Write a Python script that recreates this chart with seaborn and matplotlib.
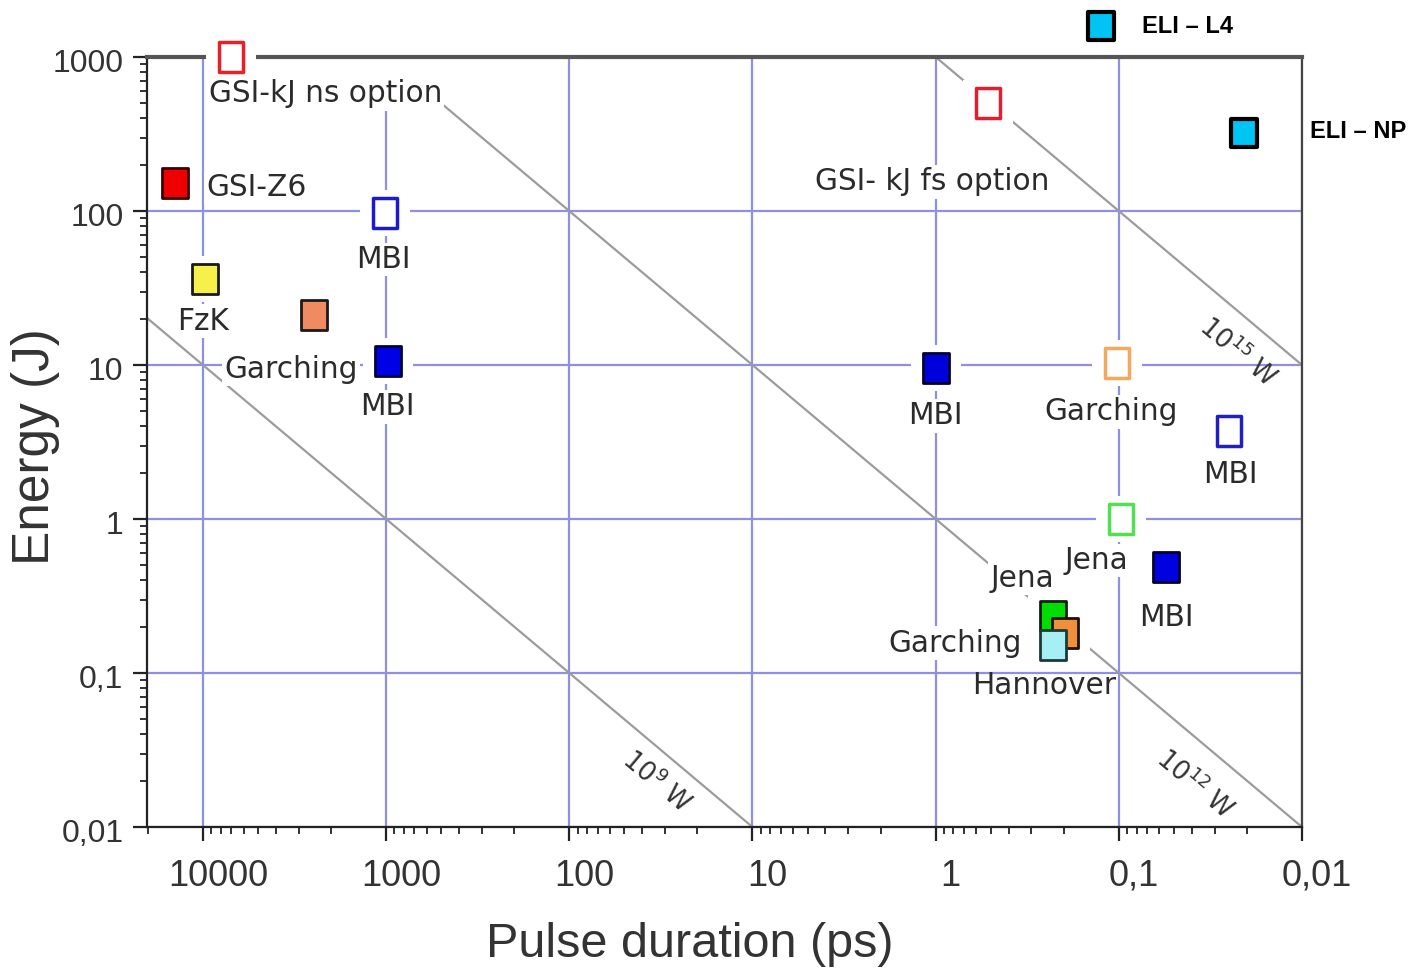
import matplotlib
matplotlib.use("Agg")
import numpy as np
import pandas as pd
import seaborn as sns
import matplotlib.pyplot as plt
from matplotlib import font_manager as fm
from matplotlib.path import Path
from matplotlib.markers import MarkerStyle
from matplotlib.ticker import FixedLocator, FixedFormatter, LogLocator, NullFormatter
from matplotlib.transforms import ScaledTranslation

# ---------------- data ----------------
point_names = ["GSI-kJ ns option", "GSI-Z6", "FzK", "Garching", "MBI", "MBI",
               "GSI- kJ fs option", "MBI", "Garching", "MBI", "Jena", "MBI",
               "Jena", "Garching", "Hannover", "ELI – L4", "ELI – NP"]
duration_ps = [7000, 14200, 9700, 2470, 1020, 980,
               0.52, 0.99, 0.102, 0.025, 0.097, 0.0553,
               0.229, 0.196, 0.229, 0.125, 0.0208]
energy_j = [1000, 153, 36, 21, 97, 10.6,
            500, 9.6, 10.3, 3.74, 1.0, 0.485,
            0.234, 0.1815, 0.151, 1590, 322]
face_colors = ["white", "#ee0000", "#f5f04a", "#f08a60", "white", "#0000e6",
               "white", "#0000dd", "white", "white", "white", "#0000e0",
               "#00dd00", "#f0903a", "#a8eef5", "#00c4f4", "#00c4f4"]
edge_colors = ["#e8202a", "#3a0000", "#1a1a1a", "#1a1a1a", "#1a1ad0", "#000040",
               "#e02030", "#000030", "#f5a860", "#2020c0", "#50e050", "#000030",
               "#102010", "#201000", "#1a3a3a", "black", "black"]
marker_kind = ["hollow", "filled", "filled", "filled", "hollow", "filled",
               "hollow", "filled", "hollow", "hollow", "hollow", "filled",
               "filled", "filled", "filled", "eli", "eli"]

label_text = ["GSI-kJ ns option", "GSI-Z6", "MBI", "FzK", "Garching", "MBI",
              "GSI- kJ fs option", "MBI", "Garching", "MBI", "Jena", "Jena",
              "MBI", "Garching", "Hannover"]
label_x_ps = [2150, 5070, 1040, 10000, 3300, 980,
              1.05, 1.0, 0.11, 0.0247, 0.132, 0.335,
              0.0553, 0.787, 0.254]
label_y_j = [568, 142, 48.5, 19.3, 9.4, 5.35,
             155, 4.68, 4.97, 1.94, 0.538, 0.412,
             0.23, 0.156, 0.0824]

eli_text = ["ELI – L4", "ELI – NP"]
eli_text_x_ps = [0.0748, 0.00904]
eli_text_y_j = [1587, 327]

power_w = [1e9, 1e12, 1e15]
power_text = [r"$\mathregular{10^{9}}$ W", r"$\mathregular{10^{12}}$ W", r"$\mathregular{10^{15}}$ W"]
power_text_x_ps = [33.5, 0.0385, 0.0224]
power_text_y_j = [0.0197, 0.0188, 12.1]

x_tick_values = [1e4, 1e3, 1e2, 1e1, 1e0, 1e-1, 1e-2]
x_tick_labels = ["10000", "1000", "100", "10", "1", "0,1", "0,01"]
y_tick_values = [1e-2, 1e-1, 1e0, 1e1, 1e2, 1e3]
y_tick_labels = ["0,01", "0,1", "1", "10", "100", "1000"]

x_limits = (2.02e4, 1e-2)
y_limits = (1e-2, 1e3)

# ---------------- style ----------------
sns.set_theme(style="ticks")
plt.rcParams["font.family"] = ["DejaVu Sans"]
plt.rcParams["axes.unicode_minus"] = False


def available(name):
    try:
        fm.findfont(fm.FontProperties(family=name), fallback_to_default=False)
        return True
    except Exception:
        return False


sans = "Liberation Sans" if available("Liberation Sans") else "DejaVu Sans"
narrow = "Liberation Sans Narrow" if available("Liberation Sans Narrow") else None

fig = plt.figure(figsize=(14.2, 9.73), dpi=100)
ax = fig.add_axes([147 / 1420, 1 - 827 / 973, (1302 - 147) / 1420, (827 - 57) / 973])


def rect_path(half_w, half_h=0.5):
    verts = [(-half_w, -half_h), (half_w, -half_h), (half_w, half_h),
             (-half_w, half_h), (-half_w, -half_h)]
    codes = [Path.MOVETO, Path.LINETO, Path.LINETO, Path.LINETO, Path.CLOSEPOLY]
    return Path(verts, codes)


box_marker = MarkerStyle(rect_path(0.42))
eli_marker = MarkerStyle(rect_path(0.46))
halo_marker = MarkerStyle(rect_path(0.5, 0.46))

kind_style = {
    "hollow": dict(marker=box_marker, s=436, linewidth=2.5),
    "filled": dict(marker=box_marker, s=466, linewidth=2.0),
    "eli": dict(marker=eli_marker, s=406, linewidth=3.0),
}

label_size = 21.3

# iso-power lines (E = P * t)
t_span = np.array([x_limits[0], x_limits[1]])
for p in power_w:
    line_df = pd.DataFrame({"t": t_span, "E": p * t_span * 1e-12})
    sns.lineplot(data=line_df, x="t", y="E", ax=ax, color="#9c9c9c",
                 linewidth=1.6, zorder=1, legend=False, sort=False)

# markers with white halos
for name, t, e, fc, ec, kind in zip(point_names, duration_ps, energy_j,
                                     face_colors, edge_colors, marker_kind):
    if kind != "eli":
        sns.scatterplot(x=[t], y=[e], ax=ax, marker=halo_marker, s=1296,
                        color="white", edgecolor="none", linewidth=0,
                        zorder=5, clip_on=False, legend=False)
    st = kind_style[kind]
    sns.scatterplot(x=[t], y=[e], ax=ax, marker=st["marker"], s=st["s"],
                    color=fc, edgecolor=ec, linewidth=st["linewidth"],
                    zorder=6, clip_on=False, legend=False)

# labels
for txt, x, y in zip(label_text, label_x_ps, label_y_j):
    if txt == "GSI-kJ ns option":
        ax.annotate("\n" + txt, xy=(x, y), xytext=(0, 0.6 * label_size), textcoords="offset points",
                    ha="center", va="center", fontsize=label_size, color="#2b2b2b",
                    bbox=dict(boxstyle="square,pad=0.08", fc="white", ec="none"),
                    zorder=4)
    elif txt == "Hannover":
        ax.text(x, y, txt, ha="center", va="center", fontsize=label_size,
                color="#2b2b2b", zorder=4)
    else:
        ax.text(x, y, txt, ha="center", va="center", fontsize=label_size, color="#2b2b2b",
                bbox=dict(boxstyle="square,pad=0.08", fc="white", ec="none"),
                zorder=4)

for txt, x, y in zip(power_text, power_text_x_ps, power_text_y_j):
    ax.text(x, y, txt, ha="center", va="center", rotation=-40,
            rotation_mode="anchor", fontsize=18.5, color="#333333", zorder=4)

for txt, x, y in zip(eli_text, eli_text_x_ps, eli_text_y_j):
    ax.text(x, y, txt, ha="left", va="center", fontsize=17, fontweight="bold",
            family=sans, color="black", zorder=7, clip_on=False)

# axes
ax.set_xscale("log")
ax.set_yscale("log")
ax.set_xlim(*x_limits)
ax.set_ylim(*y_limits)

ax.xaxis.set_major_locator(FixedLocator(x_tick_values))
ax.xaxis.set_major_formatter(FixedFormatter(x_tick_labels))
ax.yaxis.set_major_locator(FixedLocator(y_tick_values))
ax.yaxis.set_major_formatter(FixedFormatter(y_tick_labels))
for axis in (ax.xaxis, ax.yaxis):
    axis.set_minor_locator(LogLocator(base=10, subs=np.arange(2, 10), numticks=100))
    axis.set_minor_formatter(NullFormatter())

ax.grid(True, which="major", color="#8f8fe3", linewidth=1.6)
ax.grid(False, which="minor")
ax.set_axisbelow(True)

ax.tick_params(which="major", direction="out", length=10, width=1.6, color="#222222")
ax.tick_params(which="minor", direction="out", length=5, width=1.3, color="#222222")
if narrow:
    ax.tick_params(axis="x", which="major", labelsize=31, labelfontfamily=narrow,
                   labelcolor="#333333", pad=13)
else:
    ax.tick_params(axis="x", which="major", labelsize=26, labelfontfamily=sans,
                   labelcolor="#333333", pad=13)
ax.tick_params(axis="y", which="major", labelsize=23, labelfontfamily=sans,
               labelcolor="#333333", pad=7)

for lbl in ax.get_xticklabels():
    lbl.set_transform(lbl.get_transform() + ScaledTranslation(0.15, 0, fig.dpi_scale_trans))
for lbl in ax.get_yticklabels():
    lbl.set_transform(lbl.get_transform() + ScaledTranslation(0, -0.04, fig.dpi_scale_trans))

for side in ("left", "bottom"):
    ax.spines[side].set_color("#222222")
    ax.spines[side].set_linewidth(1.6)
ax.spines["right"].set_color("#444444")
ax.spines["right"].set_linewidth(1.6)
ax.spines["top"].set_color("#555555")
ax.spines["top"].set_linewidth(3.0)
ax.spines["top"].set_zorder(4.5)

ax.set_xlabel("Pulse duration (ps)", fontsize=35, family=sans, color="#333333")
ax.set_ylabel("Energy (J)", fontsize=37, family=sans, color="#333333")
ax.xaxis.set_label_coords((690 - 147) / 1155, (827 - 922) / 770)
ax.yaxis.set_label_coords((60 - 147) / 1155, (827 - 447) / 770)

fig.savefig("out.png", dpi=100, facecolor="white")
